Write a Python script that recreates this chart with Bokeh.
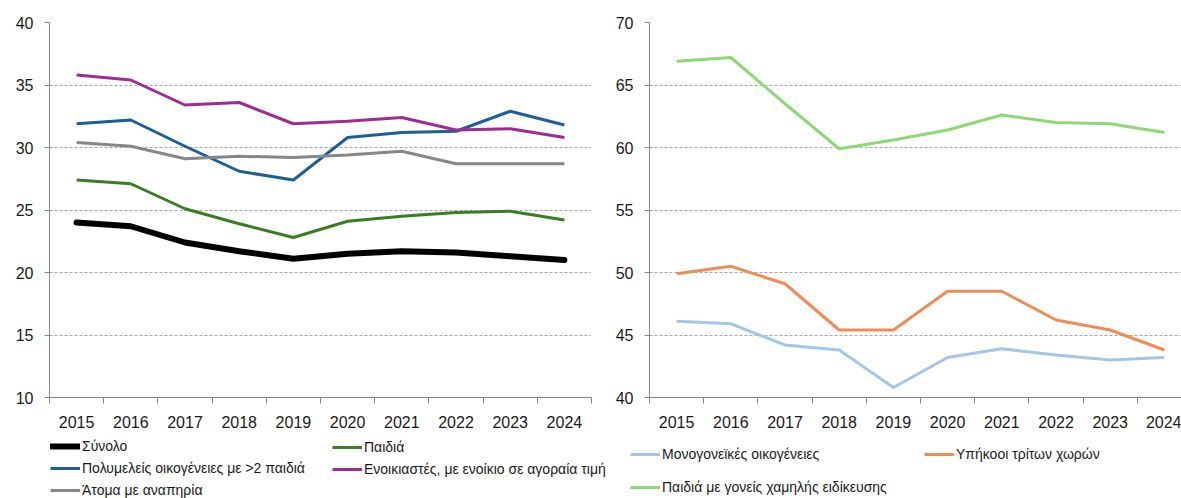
from bokeh.plotting import figure
from bokeh.models import FixedTicker, Legend, LegendItem, Range1d
from bokeh.layouts import row, column
from bokeh.embed import file_html
from bokeh.resources import INLINE

years = list(range(2015, 2025))
year_labels = [str(y) for y in years]

# Left panel
synolo = [24.0, 23.7, 22.4, 21.7, 21.1, 21.5, 21.7, 21.6, 21.3, 21.0]
paidia = [27.4, 27.1, 25.1, 23.9, 22.8, 24.1, 24.5, 24.8, 24.9, 24.2]
polymeleis = [31.9, 32.2, 30.1, 28.1, 27.4, 30.8, 31.2, 31.3, 32.9, 31.8]
enoikiastes = [35.8, 35.4, 33.4, 33.6, 31.9, 32.1, 32.4, 31.4, 31.5, 30.8]
atoma = [30.4, 30.1, 29.1, 29.3, 29.2, 29.4, 29.7, 28.7, 28.7, 28.7]

# Right panel
monogoneikes = [46.1, 45.9, 44.2, 43.8, 40.8, 43.2, 43.9, 43.4, 43.0, 43.2]
ypikooi = [49.9, 50.5, 49.1, 45.4, 45.4, 48.5, 48.5, 46.2, 45.4, 43.8]
paidia_xamilis = [66.9, 67.2, 63.5, 59.9, 60.6, 61.4, 62.6, 62.0, 61.9, 61.2]

left_ticks = [10, 15, 20, 25, 30, 35, 40]
right_ticks = [40, 45, 50, 55, 60, 65, 70]

left_names = ["Σύνολο", "Παιδιά", "Πολυμελείς οικογένειες με >2 παιδιά",
              "Ενοικιαστές, με ενοίκιο σε αγοραία τιμή", "Άτομα με αναπηρία"]
right_names = ["Μονογονεϊκές οικογένειες", "Υπήκοοι τρίτων χωρών",
               "Παιδιά με γονείς χαμηλής ειδίκευσης"]

FONT = "Liberation Sans"
TXT = "#1a1a1a"
AX = "#868686"

styles = {
    "Σύνολο": dict(line_color="#000000", line_width=6, line_cap="round", line_join="round"),
    "Παιδιά": dict(line_color="#3a7d22", line_width=3, line_join="round"),
    "Πολυμελείς οικογένειες με >2 παιδιά": dict(line_color="#1f5f99", line_width=3, line_join="round"),
    "Ενοικιαστές, με ενοίκιο σε αγοραία τιμή": dict(line_color="#a02b93", line_width=3, line_join="round"),
    "Άτομα με αναπηρία": dict(line_color="#878787", line_width=3, line_join="round"),
    "Μονογονεϊκές οικογένειες": dict(line_color="#a3c6ea", line_width=3, line_join="round"),
    "Υπήκοοι τρίτων χωρών": dict(line_color="#f08c55", line_width=3, line_join="round"),
    "Παιδιά με γονείς χαμηλής ειδίκευσης": dict(line_color="#8ed973", line_width=3, line_join="round"),
}
series = dict(zip(left_names + right_names,
                  [synolo, paidia, polymeleis, enoikiastes, atoma,
                   monogoneikes, ypikooi, paidia_xamilis]))


def make_fig(yr, ticks, xend, bl, fw, br):
    p = figure(frame_width=fw, frame_height=375,
               x_range=Range1d(2014.5, xend), y_range=Range1d(yr[0], yr[1]),
               output_backend="svg", toolbar_location=None,
               min_border_left=bl, min_border_right=br,
               min_border_top=22, min_border_bottom=38)
    p.outline_line_color = None
    p.background_fill_color = "white"
    p.border_fill_color = "white"
    p.xgrid.grid_line_color = None
    p.ygrid.grid_line_color = "#a6a6a6"
    p.ygrid.grid_line_dash = "3 2"
    p.ygrid.grid_line_width = 1

    p.yaxis.ticker = FixedTicker(ticks=ticks)
    p.yaxis.axis_line_color = AX
    p.yaxis.major_tick_line_color = AX
    p.yaxis.major_tick_out = 5
    p.yaxis.major_tick_in = 0
    p.yaxis.minor_tick_line_color = None
    p.yaxis.major_label_standoff = 11
    p.yaxis.major_label_text_font = FONT
    p.yaxis.major_label_text_font_size = "16px"
    p.yaxis.major_label_text_color = TXT

    p.xaxis.ticker = FixedTicker(ticks=years,
                                 minor_ticks=[2014.5 + i for i in range(11)])
    p.xaxis.major_label_overrides = {y: s for y, s in zip(years, year_labels)}
    p.xaxis.axis_line_color = AX
    p.xaxis.major_tick_line_color = None
    p.xaxis.major_tick_out = 0
    p.xaxis.major_tick_in = 0
    p.xaxis.minor_tick_line_color = AX
    p.xaxis.minor_tick_out = 6
    p.xaxis.minor_tick_in = 0
    p.xaxis.major_label_standoff = 12
    p.xaxis.major_label_text_font = FONT
    p.xaxis.major_label_text_font_size = "16px"
    p.xaxis.major_label_text_color = TXT
    return p


p1 = make_fig((10, 40), left_ticks, 2024.5, 49, 542, 15)
for name in left_names:
    p1.line(years, series[name], **styles[name])

p2 = make_fig((40, 70), right_ticks, 2014.5 + 532 / 54.2, 43, 532, 0)
for name in right_names:
    p2.line(years, series[name], **styles[name])

# Legend strip below both charts (its view range keeps the key lines' data out of sight)
lg = figure(width=1181, height=63, x_range=Range1d(0, 1), y_range=Range1d(0, 1),
            output_backend="svg", toolbar_location=None,
            min_border_left=0, min_border_right=0, min_border_top=0, min_border_bottom=0)
lg.axis.visible = False
lg.grid.visible = False
lg.outline_line_color = None
lg.background_fill_color = "white"
lg.border_fill_color = "white"

keys = {}
for name in left_names + right_names:
    keys[name] = lg.line(years, series[name], **styles[name])


def make_legend(names, loc, spacing):
    return Legend(items=[LegendItem(label=n, renderers=[keys[n]]) for n in names],
                  location=loc, orientation="vertical",
                  spacing=spacing, glyph_width=30, glyph_height=16,
                  label_height=16, label_standoff=2, padding=0, margin=0,
                  border_line_color=None, background_fill_alpha=0,
                  label_text_font=FONT, label_text_font_size="14px",
                  label_text_color=TXT)


lg.add_layout(make_legend([left_names[0], left_names[2], left_names[4]], (50, 0), 6))
lg.add_layout(make_legend([left_names[1], left_names[3]], (332, 21), 6))
lg.add_layout(make_legend([right_names[0], right_names[2]], (630, 3), 17))
lg.add_layout(make_legend([right_names[1]], (924, 36), 17))

layout = column(row(p1, p2, spacing=0), lg, spacing=0)
open("out.html", "w").write(file_html(layout, INLINE))
